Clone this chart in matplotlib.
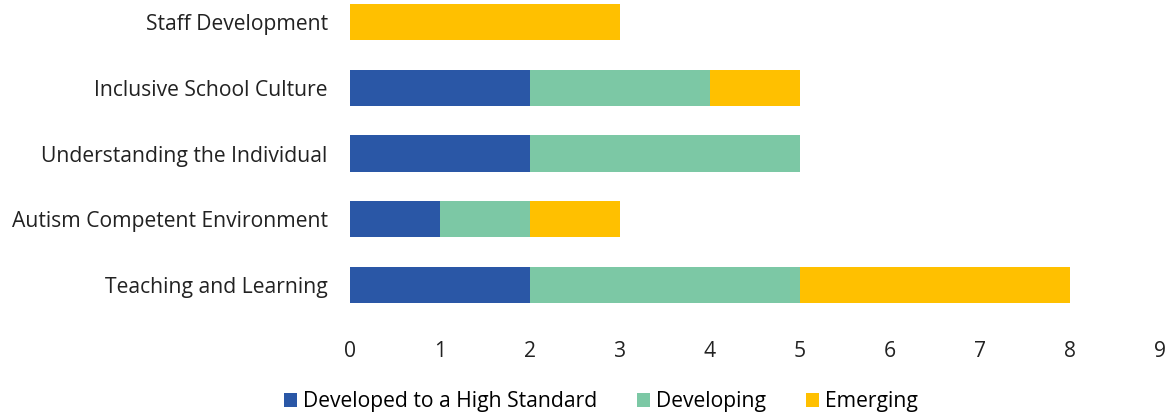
import matplotlib
matplotlib.use("Agg")
import matplotlib.pyplot as plt
import numpy as np

categories = ["Teaching and Learning", "Autism Competent Environment",
              "Understanding the Individual", "Inclusive School Culture",
              "Staff Development"]
high_standard = [2, 1, 2, 2, 0]
developing = [3, 1, 3, 2, 0]
emerging = [3, 1, 0, 1, 3]
series_names = ["Developed to a High Standard", "Developing", "Emerging"]
colours = ["#2a57a6", "#7cc8a5", "#ffc000"]


def main():
	plt.rcParams['font.family'] = ['Open Sans', 'DejaVu Sans']
	fig = plt.figure(figsize=(11.74, 4.17), dpi=100)
	ax = fig.add_axes([350 / 1174, 1 - 324.5 / 417, 810 / 1174, 325.5 / 417])

	y = np.arange(len(categories))
	left = np.zeros(len(categories))
	for vals, name, col in zip([high_standard, developing, emerging], series_names, colours):
		ax.barh(y, vals, left=left, height=0.55, color=col, label=name)
		left += np.array(vals)

	ax.set_xlim(0, 9)
	ax.set_ylim(-0.6, 4.35)
	ax.set_xticks(range(10))
	ax.set_yticks(y)
	ax.set_yticklabels(categories)
	ax.tick_params(axis='both', length=0, labelsize=15.2, colors="#222222")
	ax.tick_params(axis='y', pad=16)
	ax.tick_params(axis='x', pad=12)
	for s in ax.spines.values():
		s.set_visible(False)

	ax.legend(loc='center', bbox_to_anchor=(0.31, -0.238), ncol=3, frameon=False,
		fontsize=15.2, handlelength=0.6, handleheight=0.6, handletextpad=0.3,
		columnspacing=1.9, borderaxespad=0, borderpad=0)

	fig.savefig("out.png", dpi=100)


if __name__ == '__main__':
	main()
